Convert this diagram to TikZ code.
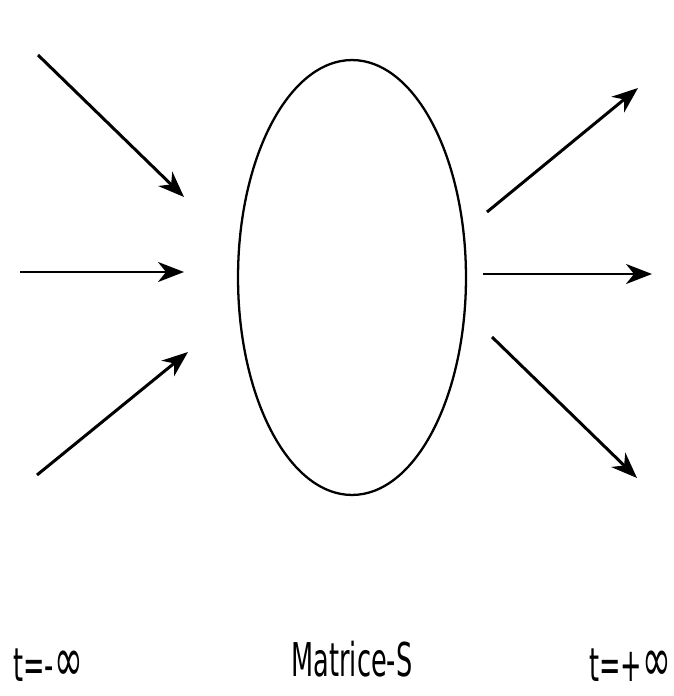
\documentclass[tikz,border=0pt]{standalone}
\usepackage{fontspec}
\usepackage{graphicx}
\setmainfont{DejaVu Sans}
\usetikzlibrary{arrows.meta,shapes.geometric}
\newcommand{\narrowtxt}[1]{\scalebox{0.55}[1]{#1}}
\newcommand{\biginf}{\scalebox{1.35}{∞}}
\tikzset{
  smatrixbox/.style={draw, ellipse, line width=1.3pt, inner sep=0pt, minimum width=4.56cm, minimum height=8.7cm},
  particle/.style={-{Stealth[length=5.2mm,width=4mm,inset=1.6mm]}, line width=1.7pt},
  timelabel/.style={inner sep=0pt, font=\fontsize{26.5}{30}\selectfont}
}
\begin{document}
\begin{tikzpicture}[x=0.02cm,y=-0.02cm]
\useasboundingbox (0,0) rectangle (673,696);
\node[smatrixbox] (smatrix) at (352,277.5) {};
% incoming states
\coordinate (inA) at (38,55);   \coordinate (inAend) at (184,197);
\coordinate (inB) at (20,272);  \coordinate (inBend) at (184,272);
\coordinate (inC) at (37,475);  \coordinate (inCend) at (188,352);
% outgoing states
\coordinate (outA) at (487,212); \coordinate (outAend) at (638,88);
\coordinate (outB) at (483,274); \coordinate (outBend) at (652,274);
\coordinate (outC) at (492,337); \coordinate (outCend) at (637,478);
\draw[particle] (inA) -- (inAend);
\draw[particle] (inB) -- (inBend);
\draw[particle] (inC) -- (inCend);
\draw[particle] (outA) -- (outAend);
\draw[particle] (outB) -- (outBend);
\draw[particle] (outC) -- (outCend);
\node[timelabel, anchor=base west] (tminus) at (13,681) {\narrowtxt{t=-\biginf}};
\node[timelabel, anchor=base] (smlabel) at (352,676) {\narrowtxt{Matrice-S}};
\node[timelabel, anchor=base west] (tplus) at (589,681) {\narrowtxt{t=+\biginf}};
\end{tikzpicture}
\end{document}
